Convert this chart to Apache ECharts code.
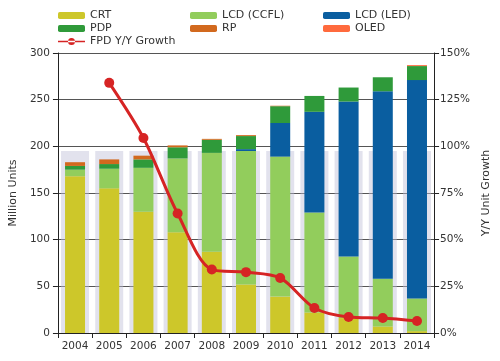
<!DOCTYPE html>
<html><head><meta charset="utf-8">
<script src="https://cdn.jsdelivr.net/npm/echarts@6/dist/echarts.min.js"></script>
<style>html,body{margin:0;padding:0;background:#fff}#c{width:500px;height:361px}</style>
</head><body><div id="c"></div>
<script>
var years = ['2004','2005','2006','2007','2008','2009','2010','2011','2012','2013','2014'];
var crt  = [168,155,130,108,87,52,39,22,16,7,2];
var ccfl = [7,21,47,79,106,143,150,107,66,51,35];
var led  = [0,0,0,0,0,2,36,108,166,201,234];
var pdp  = [4,5,9,12,14,14,18,17,15,15,15];
var rp   = [4,5,4,2,1,1,0.5,0,0,0,0];
var oled = [0,0,0,0,0,0,0,0,0,0,1];
var growth = [null,134,104.5,64,34,32.6,29.5,13.4,8.6,8,6.4];
var leftTicks = [0,50,100,150,200,250,300];
var rightTicks = [0,25,50,75,100,125,150];
var bgBand = years.map(function(){return 195;});

var F = 'DejaVu Sans';
function barSeries(name, data, color){
  return {name:name, type:'bar', stack:'u', data:data, barWidth:20, itemStyle:{color:color}, z:3};
}
var legText = {fontFamily:F, fontSize:11, color:'#333', lineHeight:13};
function legend(left, names){
  return {left:left, top:9, orient:'vertical', itemWidth:27, itemHeight:7, itemGap:0,
    textStyle:legText, data:names, selectedMode:false, padding:0};
}
var chart = echarts.init(document.getElementById('c'), null, {renderer:'canvas'});
chart.setOption({
  animation:false,
  grid:{left:55, right:60, top:53, bottom:28},
  legend:[
    legend(58, [{name:'CRT'},{name:'PDP'},{name:'FPD Y/Y Growth', itemStyle:{color:'#d62424'},
      icon:'path://M0,2.7L27,2.7L27,4.3L0,4.3Z M10,3.5a3.5,3.5 0 1,0 7,0a3.5,3.5 0 1,0 -7,0Z'}]),
    legend(190, ['LCD (CCFL)','RP']),
    legend(323, ['LCD (LED)','OLED'])
  ],
  xAxis:[{
    type:'category', data:years, position:'bottom',
    axisLine:{lineStyle:{color:'#222'}},
    axisTick:{show:true, length:5, lineStyle:{color:'#222'}},
    axisLabel:{fontFamily:F, fontSize:10.5, color:'#333', margin:8, interval:0}
  },{
    type:'category', data:years, show:false
  }],
  yAxis:[{
    type:'value', min:0, max:300, interval:50,
    name:'Million Units', nameLocation:'middle', nameGap:38, nameRotate:90,
    nameTextStyle:{fontFamily:F, fontSize:11, color:'#333'},
    axisLine:{show:true, lineStyle:{color:'#222'}},
    axisTick:{show:true, length:5, lineStyle:{color:'#222'}},
    axisLabel:{fontFamily:F, fontSize:10.5, color:'#333', margin:8},
    splitLine:{show:true, lineStyle:{color:'#555', width:1}}
  },{
    type:'value', min:0, max:150, interval:25,
    name:'Y/Y Unit Growth', nameLocation:'middle', nameGap:44, nameRotate:90,
    nameTextStyle:{fontFamily:F, fontSize:11, color:'#333'},
    axisLine:{show:true, lineStyle:{color:'#222'}},
    axisTick:{show:true, length:5, lineStyle:{color:'#222'}},
    axisLabel:{fontFamily:F, fontSize:10.5, color:'#333', margin:6, formatter:'{value}%'},
    splitLine:{show:false}
  }],
  series:[
    {name:'bg', type:'bar', xAxisIndex:1, yAxisIndex:0, data:bgBand, barWidth:28, silent:true,
     itemStyle:{color:'rgba(190,190,215,0.45)'}, z:1},
    barSeries('CRT', crt, '#cdc72a'),
    barSeries('LCD (CCFL)', ccfl, '#92cd5c'),
    barSeries('LCD (LED)', led, '#0a5ea0'),
    barSeries('PDP', pdp, '#2f9a3a'),
    barSeries('RP', rp, '#d2691e'),
    barSeries('OLED', oled, '#ff6a3d'),
    {name:'FPD Y/Y Growth', type:'line', yAxisIndex:1, data:growth, smooth:0.3,
     symbol:'circle', symbolSize:10, showSymbol:true,
     lineStyle:{color:'#d62424', width:3}, itemStyle:{color:'#d62424'}, z:10}
  ]
});
</script></body></html>
